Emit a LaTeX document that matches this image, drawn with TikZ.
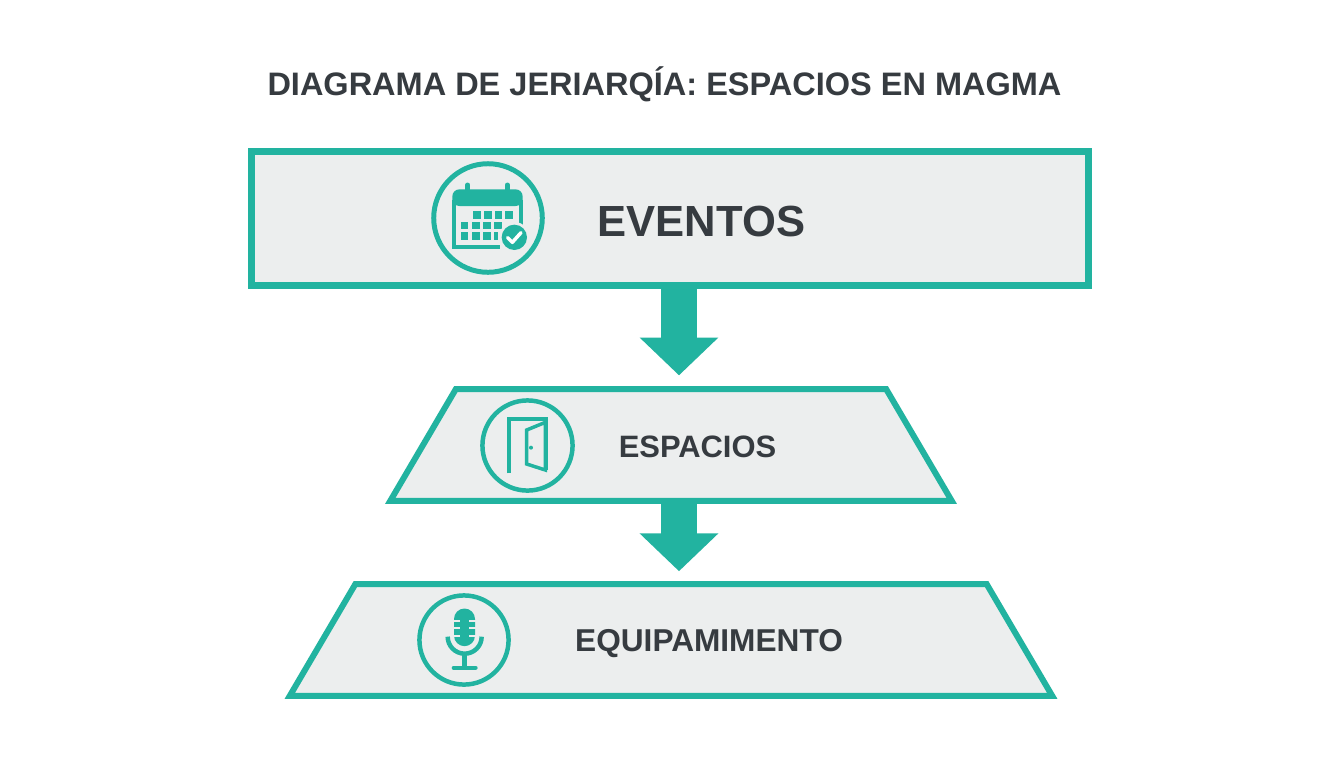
\documentclass[tikz,border=0pt]{standalone}
\usepackage{fontspec}
\setmainfont{Liberation Sans}
\usetikzlibrary{shapes.geometric,arrows.meta}
\definecolor{teal1}{HTML}{22B3A0}
\definecolor{boxfill}{HTML}{ECEEEE}
\definecolor{ink}{HTML}{363B40}
\newdimen\pxu \pxu=0.56693pt
\tikzset{
  x=0.02cm,y=-0.02cm,
  rectbox/.style={draw=teal1,fill=boxfill,line width=7*\pxu,rectangle,inner sep=0pt,outer sep=0pt,minimum width=841*\pxu,minimum height=135*\pxu},
  trapbox/.style={draw=teal1,fill=boxfill,line width=6*\pxu,trapezium,trapezium left angle=59.6,trapezium right angle=59.6,inner sep=0pt,outer sep=0pt},
  ring/.style={circle,draw=teal1,fill=none,inner sep=0pt,outer sep=0pt},
  label/.style={text=ink,font=\bfseries,inner sep=0pt,anchor=base},
  flow/.style={draw=teal1,line width=20.4pt,-{Triangle[length=21.54pt,width=43.6pt]}},
  glyph/.style={draw=teal1,line join=miter,fill=none},
  cell/.style={fill=teal1,draw=none},
}
\begin{document}
\begin{tikzpicture}
\useasboundingbox (0,0) rectangle (1344,768);
\fill[white] (0,0) rectangle (1344,768);
\node[label] (title) at (664.5,95.5) {\fontsize{18.5}{22}\selectfont DIAGRAMA DE JERIARQÍA: ESPACIOS EN MAGMA};
\node[rectbox] (eventosbox) at (670,218.5) {};
\node[trapbox] (espaciosbox) at (671,445) {\phantom{\rule{245pt}{63.5pt}}};
\node[trapbox] (equipobox) at (671,640) {\phantom{\rule{359.4pt}{63.5pt}}};
\coordinate (axis) at (679,0);
\draw[flow,shorten >=7.9pt] (axis |- eventosbox.south) -- (axis |- espaciosbox.north);
\draw[flow,shorten >=7.4pt] (axis |- espaciosbox.south) -- (axis |- equipobox.north);
\node[label] (eventos) at (701.5,236.5) {\fontsize{24.8}{28}\selectfont EVENTOS};
\node[label] (espacios) at (697.5,457.5) {\fontsize{17.6}{21}\selectfont ESPACIOS};
\node[label] (equipo) at (709,651) {\fontsize{18}{21}\selectfont EQUIPAMIMENTO};
% calendar icon
\node[ring,line width=5*\pxu,minimum size=109*\pxu] (calring) at (488,218) {};
\begin{scope}[shift={(420,150)},x=0.00667cm,y=-0.00667cm]
  \draw[glyph,line width=4*\pxu] (103,150) -- (103,291) -- (240,291);
  \draw[glyph,line width=4*\pxu] (302,150) -- (302,225);
  \fill[teal1,rounded corners=4pt] (97,168) -- (97,118) -- (308,118) -- (308,168) -- cycle;
  \draw[teal1,line width=5*\pxu,line cap=round] (143,105) -- (143,120) (262,105) -- (262,120);
  \foreach \xa/\ya in {160/183,192/183,224/183,256/183,122/215,157/215,190/215,222/215,122/247,157/247,190/247}
    \fill[cell] (\xa,\ya) rectangle ++(23,23);
  \fill[cell] (222,247) rectangle (235,270);
  \fill[boxfill] (283,262) circle[radius=46];
  \fill[teal1] (283,262) circle[radius=38];
  \draw[white,line width=3.5*\pxu,line cap=round,line join=round] (263,263) -- (277,277) -- (303,248);
\end{scope}
% door icon
\node[ring,line width=4.5*\pxu,minimum size=90.5*\pxu] (doorring) at (527.5,445.5) {};
\begin{scope}[shift={(470,390)},x=0.00667cm,y=-0.00667cm]
  \draw[glyph,line width=4*\pxu] (118,250) -- (118,88) -- (228,88) -- (228,240);
  \draw[glyph,line width=3.5*\pxu] (170,120) -- (226,97) -- (226,240) -- (170,222) -- cycle;
  \fill[teal1] (183,173) circle[radius=6];
\end{scope}
% microphone icon
\node[ring,line width=4.5*\pxu,minimum size=89.5*\pxu] (micring) at (464,640) {};
\begin{scope}[shift={(410,585)},x=0.00667cm,y=-0.00667cm]
  \fill[teal1] (132,102) arc[start angle=180,end angle=360,radius=31.5] -- (195,152) arc[start angle=0,end angle=180,radius=31.5] -- cycle;
  \foreach \ya in {108,130,152} {
    \fill[boxfill] (128,\ya-3) rectangle (150,\ya+3);
    \fill[boxfill] (177,\ya-3) rectangle (199,\ya+3);
  }
  \draw[teal1,line width=4.5*\pxu] (113,155) arc[start angle=180,end angle=0,radius=51];
  \draw[teal1,line width=4.5*\pxu] (164,206) -- (164,245);
  \draw[teal1,line width=4*\pxu,line cap=round] (131,248) -- (197,248);
\end{scope}
\end{tikzpicture}
\end{document}
